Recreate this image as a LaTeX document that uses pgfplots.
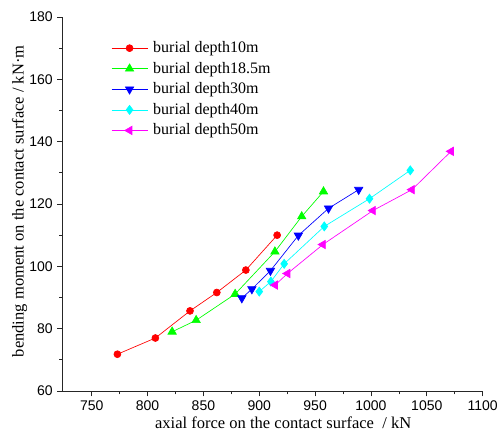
\documentclass[border=0pt]{standalone}
\usepackage{fontspec}
\setmainfont{Liberation Serif}
\setsansfont{Liberation Sans}
\usepackage{pgfplots}
\pgfplotsset{compat=1.18}
\definecolor{cR}{RGB}{255,0,0}
\definecolor{cG}{RGB}{0,255,0}
\definecolor{cB}{RGB}{0,0,255}
\definecolor{cC}{RGB}{0,255,255}
\definecolor{cM}{RGB}{255,0,255}
\begin{document}
\begin{tikzpicture}
\useasboundingbox (-47.0pt,-38.25pt) rectangle (328pt,293.25pt);
\begin{axis}[
  at={(0,0)}, anchor=south west,
  scale only axis, width=315pt, height=280.5pt,
  xmin=724, xmax=1100, ymin=60, ymax=180,
  axis x line*=bottom, axis y line*=left,
  axis line style={black!85, line width=0.6pt},
  xtick={750,800,...,1100}, ytick={60,80,...,180},
  minor x tick num=1, minor y tick num=1,
  tick align=outside,
  major tick length=4pt, minor tick length=2.5pt,
  tick style={black!85, line width=0.5pt},
  /pgf/number format/1000 sep={},
  /pgf/number format/assume math mode=true,
  tick label style={font=\sffamily\fontsize{10.5}{12}\selectfont},
  xlabel={axial force on the contact surface \ / kN},
  ylabel={bending moment on the contact surface / kN·m},
  label style={font=\fontsize{12.4}{14}\selectfont},
  xlabel style={at={(axis description cs:0.525,0)}, anchor=center, yshift=-24pt},
  ylabel style={at={(axis description cs:-0.1024,0.507)}, anchor=center},
  legend style={draw=none, fill=none, at={(axis description cs:0.115,0.942)}, anchor=north west,
    font=\fontsize{12}{13}\selectfont, row sep=1.6pt, inner sep=0pt,
    nodes={inner xsep=4pt}},
  legend cell align=left,
  legend image code/.code={\draw[mark repeat=2,mark phase=2,#1] plot coordinates {(0pt,0pt) (13.5pt,0pt) (27pt,0pt)};},
  every axis plot/.append style={line width=0.5pt},
]
\addplot[cR, mark=*, mark size=2.6pt, mark options={solid, fill=cR}] coordinates {
(773,71.8) (807,77) (838,85.7) (862,91.6) (888,98.8) (916,110)};
\addlegendentry{burial depth10m}
\addplot[cG, mark=triangle*, mark size=3.6pt, mark options={solid, fill=cG}] coordinates {
(822,79) (843.5,82.7) (878.4,91.1) (914,104.7) (938,116) (957.5,124)};
\addlegendentry{burial depth18.5m}
\addplot[cB, mark=triangle*, mark size=3.6pt, mark options={solid, fill=cB, rotate=180}] coordinates {
(884.4,89.8) (893.4,92.7) (910,98.6) (935,109.9) (962,118.6) (989,124.6)};
\addlegendentry{burial depth30m}
\addplot[cC, mark=diamond*, mark size=3.4pt, mark options={solid, fill=cC}] coordinates {
(900,91.9) (910.4,95.1) (922.3,100.8) (958.2,112.8) (998.7,121.7) (1035.2,130.8)};
\addlegendentry{burial depth40m}
\addplot[cM, mark=triangle*, mark size=3.6pt, mark options={solid, fill=cM, rotate=90}] coordinates {
(914.2,94) (925.3,97.7) (957,107) (1001.8,117.9) (1036.7,124.6) (1071.7,136.9)};
\addlegendentry{burial depth50m}
\end{axis}
\end{tikzpicture}
\end{document}
